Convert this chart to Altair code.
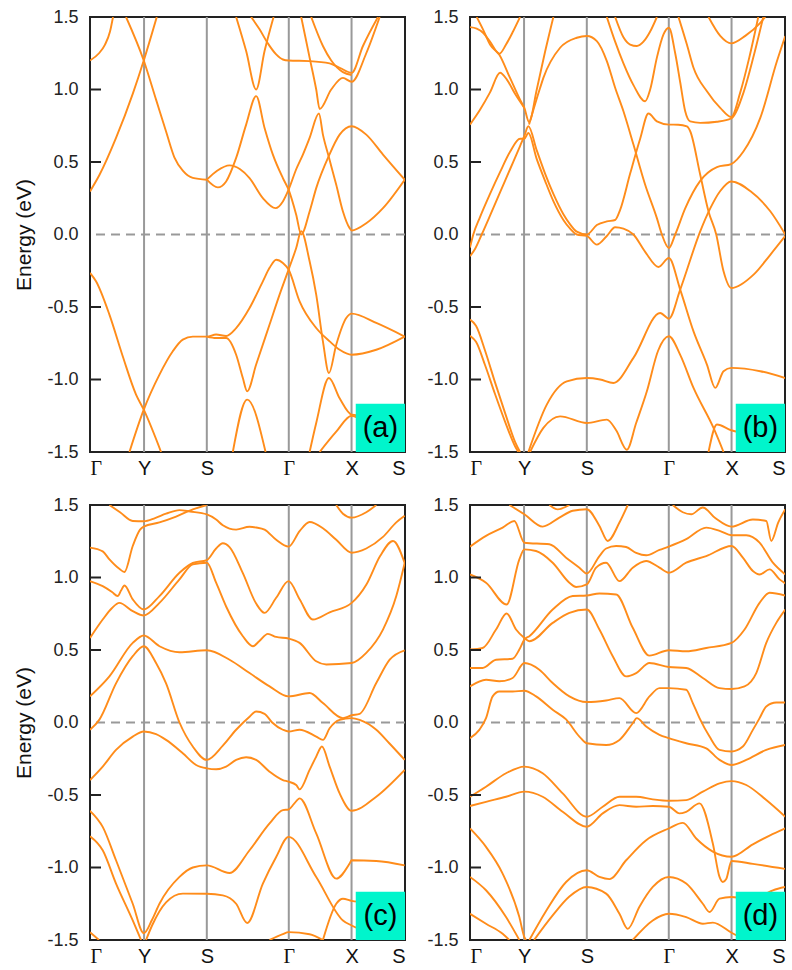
import altair as alt
import pandas as pd

# ---------------- axis / label data ----------------
K_TICKS = [0, 54.0, 116.7, 198.6, 261.3, 314.7]
K_LABELS = ["Γ", "Y", "S", "Γ", "X", "S"]
E_TICKS = [-1.5, -1.0, -0.5, 0.0, 0.5, 1.0, 1.5]
TAGS = ["(a)", "(b)", "(c)", "(d)"]

# ---------------- band data: [k, E(eV)] ----------------
BANDS_A = [
    [(0, 1.20), (9, 1.25), (15, 1.31), (20, 1.40), (23, 1.50)],
    [(36, 1.50), (53.7, 1.20), (66, 0.93), (76, 0.71), (84.4, 0.53), (92.7, 0.44), (102.7, 0.39), (116.7, 0.378)],
    [(0, 0.297), (9.4, 0.41), (26, 0.666), (42.7, 0.97), (53.7, 1.20), (66.7, 1.50)],
    [(116.7, 0.378), (127, 0.44), (139.4, 0.477), (150, 0.45), (159.4, 0.389), (172.7, 0.251), (185.4, 0.182),
     (192.7, 0.228), (198.4, 0.309), (206, 0.45), (212.7, 0.551), (219.4, 0.666), (228.7, 0.834), (232.7, 0.689),
     (238.4, 0.539), (246, 0.343), (252.7, 0.159), (259.4, 0.044), (261.4, 0.028), (276, 0.078), (292.7, 0.182),
     (314.4, 0.378)],
    [(116.7, 0.378), (127.7, 0.325), (136, 0.366), (146, 0.528), (156, 0.758), (166, 0.954), (174.4, 0.735),
     (182.7, 0.551), (192.7, 0.389), (198.4, 0.309), (206, 0.136), (211, 0.0), (219.4, 0.159), (226, 0.32),
     (238.4, 0.539), (249.4, 0.689), (261.4, 0.747), (276, 0.689), (292.7, 0.551), (314.4, 0.378)],
    [(146, 1.50), (156, 1.265), (166, 1.0), (174.4, 1.265), (183.4, 1.50)],
    [(161, 1.50), (169.4, 1.415), (177.7, 1.318), (186, 1.242), (192.7, 1.207), (198.4, 1.20), (219.4, 1.196),
     (239.4, 1.18), (249.4, 1.15), (261.4, 1.115), (272.7, 1.30), (287.7, 1.50)],
    [(211, 1.50), (219.4, 1.22), (226, 1.0), (229.4, 0.866), (241, 1.0), (252.7, 1.08), (261.4, 1.053),
     (276, 1.25), (289.4, 1.50)],
    [(221, 1.50), (232.7, 1.30), (241, 1.20), (252.7, 1.12), (261.4, 1.10)],
    [(0, -0.265), (6, -0.323), (19.4, -0.553), (32.7, -0.84), (46, -1.104), (53.7, -1.208), (71, -1.50)],
    [(39.4, -1.50), (53.7, -1.208), (69.4, -0.966), (82.7, -0.805), (92.7, -0.725), (102.7, -0.704),
     (116.7, -0.704), (126, -0.69), (136, -0.70), (146, -0.645), (159.4, -0.507), (172.7, -0.323),
     (179.4, -0.23), (186, -0.174), (192.7, -0.196), (198.4, -0.242), (209.4, -0.461), (226, -0.645),
     (239.4, -0.737), (249.4, -0.795), (261.4, -0.829), (286, -0.795), (314.4, -0.704)],
    [(116.7, -0.704), (126, -0.714), (136, -0.714), (146, -0.829), (152.7, -0.99), (157, -1.081), (166, -0.897),
     (179.4, -0.621), (189.4, -0.415), (198.4, -0.242), (206, -0.093), (211, 0.022), (219.4, -0.185),
     (226, -0.415), (232.7, -0.737), (238.7, -0.955), (246, -0.76), (256, -0.576), (261.4, -0.546),
     (286, -0.61), (314.4, -0.704)],
    [(142.7, -1.50), (157, -1.139), (175.4, -1.50)],
    [(219.4, -1.50), (226, -1.30), (238.7, -0.99), (249.4, -1.13), (261.4, -1.242), (275, -1.25)],
    [(229.4, -1.50), (246, -1.36), (261.4, -1.25), (275, -1.30)],
]

BANDS_B = [
    [(0, 1.43), (6.7, 1.42), (13.3, 1.39), (20, 1.33), (29.3, 1.247), (36, 1.31), (43, 1.40), (50, 1.50)],
    [(6.7, 1.50), (13.3, 1.41), (20, 1.31), (29.3, 1.24), (40, 1.08), (50, 0.93), (54.3, 0.873), (59, 0.776),
     (66.7, 1.0), (75, 1.26), (83.3, 1.50)],
    [(0, 0.758), (10, 0.86), (20, 0.98), (30, 1.115), (36.7, 1.07), (45, 0.97), (54.3, 0.873)],
    [(0, -0.15), (5, -0.10), (11.7, 0.0), (20, 0.13), (30, 0.29), (40, 0.45), (50, 0.61), (54.3, 0.68),
     (58.3, 0.747), (66.7, 0.58), (75, 0.42), (83.3, 0.28), (93.3, 0.14), (100, 0.07), (106.7, 0.02),
     (116.7, 0.0), (126.7, 0.065), (136.7, 0.09), (145, 0.10), (150, 0.17), (160, 0.42), (170, 0.66),
     (178.3, 0.834), (186.7, 0.78), (198.7, 0.758), (208, 0.757), (216.7, 0.745), (220, 0.712), (230, 0.412),
     (238.3, 0.159), (246, 0.0), (253.3, -0.254), (261, -0.369), (283.3, -0.277), (300, -0.14), (315, -0.01)],
    [(0, -0.09), (3.3, 0.0), (10, 0.12), (20, 0.28), (30, 0.43), (40, 0.57), (50, 0.66), (54.3, 0.66),
     (58.3, 0.70), (66.7, 0.52), (75, 0.37), (83.3, 0.23), (93.3, 0.10), (100, 0.04), (106.7, 0.0),
     (116.7, -0.01), (126.7, -0.07), (136.7, -0.01), (145, 0.05), (153.3, 0.04), (163.3, 0.0), (175, -0.12),
     (188.3, -0.224), (198.7, -0.162), (210, -0.38), (223.3, -0.668), (236.7, -0.897), (245, -1.058),
     (253.3, -0.943), (261, -0.92), (290, -0.943), (315, -0.99)],
    [(59, 0.758), (70, 1.01), (73.3, 1.08), (90, 1.288), (106.7, 1.357), (116.7, 1.369), (126.7, 1.334),
     (136.7, 1.196), (145, 1.012), (153.3, 0.85), (163.3, 0.62), (175, 0.343), (186.7, 0.113), (191.7, 0.0),
     (198.7, -0.093), (205, 0.0), (215, 0.18), (230, 0.37), (246.7, 0.465), (261, 0.486), (273.3, 0.574),
     (290, 0.804), (306.7, 1.196), (315, 1.369)],
    [(136.7, 1.50), (145, 1.33), (153.3, 1.18), (163.3, 1.03), (175, 0.919), (180, 1.0), (186.7, 1.22),
     (193.3, 1.38), (198.7, 1.426), (205, 1.25), (210, 1.05), (215, 0.85), (220, 0.78), (230, 0.77),
     (246.7, 0.778), (261, 0.80), (273.3, 0.98), (283, 1.22), (293, 1.50)],
    [(145, 1.50), (153.3, 1.36), (160, 1.31), (166.7, 1.30), (173.3, 1.33), (180, 1.40), (186.7, 1.50)],
    [(208.3, 1.50), (216.7, 1.31), (223.3, 1.15), (236.7, 0.988), (250, 0.873), (261, 0.81), (270, 0.98),
     (279, 1.22), (288, 1.50)],
    [(238.3, 1.50), (250, 1.37), (261, 1.318), (275, 1.37), (290, 1.46), (295, 1.50)],
    [(58.3, -1.50), (76.7, -1.173), (96.7, -1.013), (116.7, -0.99), (130, -1.0), (143.3, -1.024),
     (163.3, -0.851), (190, -0.541), (198.7, -0.58), (210, -0.38), (230, 0.022), (240, 0.18), (250, 0.30),
     (261, 0.366), (280, 0.30), (300, 0.16), (315, 0.0)],
    [(0, -0.587), (6, -0.63), (15, -0.80), (25, -1.02), (35, -1.23), (45, -1.43), (50, -1.50)],
    [(0, -0.698), (6, -0.74), (15, -0.90), (25, -1.10), (35, -1.29), (45, -1.46), (48.3, -1.50)],
    [(60, -1.50), (73.3, -1.334), (90, -1.254), (116.7, -1.30), (136.7, -1.277), (146, -1.35), (156.7, -1.484),
     (166, -1.30), (176.7, -1.081), (188, -0.80), (198.7, -0.702), (210, -0.83), (223.3, -1.058),
     (243.3, -1.334), (253.3, -1.50)],
    [(238.3, -1.50), (246.7, -1.31), (261, -1.35), (275, -1.37)],
]

BANDS_C = [
    [(19.4, 1.50), (30, 1.45), (42.7, 1.39), (53.7, 1.388), (65, 1.41), (76, 1.44), (89.4, 1.465), (100, 1.455),
     (116.7, 1.435), (126, 1.40), (132.7, 1.36), (146, 1.33), (159.4, 1.35), (166, 1.345), (174.4, 1.33),
     (186, 1.26), (198.4, 1.213), (209.4, 1.32), (219.4, 1.383), (232.7, 1.34), (246, 1.26), (261.4, 1.171),
     (276, 1.20), (292.7, 1.28), (306, 1.38), (314.4, 1.425)],
    [(0, 1.206), (12.7, 1.18), (19.4, 1.125), (29.3, 1.06), (34.4, 1.038), (42.7, 1.217), (50, 1.33),
     (53.7, 1.351), (69.4, 1.38), (86, 1.42), (102.7, 1.47), (116.7, 1.50)],
    [(0, 0.975), (12.7, 0.94), (22, 0.90), (27.7, 0.872), (31, 0.91), (34.4, 0.945), (42.7, 0.849), (53.7, 0.779),
     (69.4, 0.872), (89.4, 1.033), (102.7, 1.10), (116.7, 1.12), (126, 1.20), (132.7, 1.236), (139.4, 1.21),
     (152.7, 1.03), (166, 0.82), (174.4, 0.756), (186, 0.86), (198.4, 0.975), (209.4, 0.85), (222.7, 0.71),
     (239.4, 0.76), (261.4, 0.825), (276, 0.95), (290, 1.15), (302.7, 1.252), (314.4, 1.10)],
    [(0, 0.583), (12.7, 0.71), (22, 0.79), (29.3, 0.825), (42.7, 0.768), (53.7, 0.738), (69.4, 0.825),
     (89.4, 0.987), (102.7, 1.09), (116.7, 1.102), (126, 0.964), (136, 0.80), (152.7, 0.595), (162.7, 0.526),
     (169, 0.56), (177.7, 0.611), (186, 0.59), (198.4, 0.579), (209.4, 0.549), (226, 0.422), (236, 0.40),
     (261.4, 0.41), (276, 0.48), (292.7, 0.641), (306, 0.872), (314.4, 1.10)],
    [(0, 0.18), (19.4, 0.318), (42.7, 0.549), (53.7, 0.60), (69.4, 0.526), (89.4, 0.484), (116.7, 0.498),
     (139.4, 0.433), (159.4, 0.341), (179.4, 0.249), (198.4, 0.18), (219.4, 0.203), (232.7, 0.134),
     (252.7, 0.03), (261.4, 0.05), (269.4, 0.06), (286, 0.272), (299.4, 0.433), (314.4, 0.498)],
    [(0, -0.05), (9.4, 0.02), (26, 0.27), (42.7, 0.457), (53.7, 0.526), (66, 0.41), (76, 0.27), (89.4, 0.0),
     (102.7, -0.166), (116.7, -0.258), (132.7, -0.16), (146, -0.05), (159.4, 0.04), (166, 0.076),
     (174.4, 0.06), (182, 0.0), (192.7, -0.05), (198.4, -0.062), (209.4, -0.05), (226, -0.097),
     (232.7, -0.12), (239.4, -0.04), (249.4, 0.018), (261.4, 0.03), (269.4, 0.018), (286, -0.05),
     (299, -0.143), (314.4, -0.258)],
    [(0, -0.397), (12.7, -0.304), (26, -0.189), (42.7, -0.097), (53.7, -0.062), (66, -0.08), (76, -0.12),
     (92.7, -0.212), (106, -0.293), (116.7, -0.316), (126, -0.322), (136, -0.304), (146, -0.258),
     (156, -0.24), (166, -0.258), (179.4, -0.339), (192.7, -0.397), (198.4, -0.408), (206, -0.431),
     (209.4, -0.461), (219.4, -0.327), (226, -0.235), (231.7, -0.166), (239.4, -0.304), (249.4, -0.489),
     (261.4, -0.609), (286, -0.512), (314.4, -0.327)],
    [(0, -0.609), (12.7, -0.72), (26, -0.95), (42.7, -1.25), (53.7, -1.453), (62, -1.36), (69.4, -1.25),
     (89.4, -1.065), (102.7, -1.0), (116.7, -0.985), (139.4, -1.038), (159.4, -0.881), (179.4, -0.696),
     (192.7, -0.604), (198.4, -0.60), (204, -0.56), (209.4, -0.523), (226, -0.765), (246, -1.077),
     (259.4, -0.973), (261.4, -0.95), (286, -0.955), (314.4, -0.985)],
    [(0, -0.784), (12.7, -0.881), (26, -1.111), (42.7, -1.365), (51, -1.50)],
    [(56, -1.50), (62, -1.40), (76, -1.24), (92.7, -1.18), (116.7, -1.181), (132.7, -1.192), (146, -1.25),
     (157, -1.383), (172.7, -1.111), (186, -0.927), (198.4, -0.789), (226, -1.065), (252.7, -1.365),
     (261.4, -1.40), (275, -1.44)],
    [(232.7, -1.50), (246, -1.25), (252.7, -1.215), (261.4, -1.23), (276, -1.24)],
    [(0, -1.446), (9, -1.50)],
    [(179.4, -1.50), (192.7, -1.46), (198.4, -1.446), (219.4, -1.46), (232.7, -1.50)],
    [(246, 1.50), (252.7, 1.44), (261.4, 1.413), (276, 1.45), (286, 1.50)],
]

BANDS_D = [
    [(39.3, 1.50), (54.3, 1.436), (72.6, 1.351), (89.3, 1.413), (102.6, 1.46), (116.6, 1.471), (129.3, 1.356),
     (137.6, 1.252), (149.3, 1.379), (157.6, 1.50)],
    [(79.3, 1.50), (87.6, 1.47), (99.3, 1.50)],
    [(202.6, 1.50), (212.6, 1.45), (221, 1.436), (232.6, 1.483), (245, 1.41), (261.3, 1.351), (282.6, 1.40),
     (296, 1.39), (301, 1.252), (308, 1.38), (315, 1.471)],
    [(0, 1.213), (16, 1.287), (32.6, 1.344), (44.3, 1.39), (54.3, 1.24), (79.3, 1.229), (96, 1.137),
     (109.3, 1.068), (116.6, 1.028), (129.3, 1.148), (136, 1.20), (146, 1.217), (156, 1.21), (166, 1.17),
     (176, 1.153), (189.3, 1.19), (198.6, 1.213), (216, 1.264), (236, 1.344), (250, 1.32), (261.3, 1.291),
     (276, 1.291), (289.3, 1.24), (302.6, 1.102), (315, 1.021)],
    [(0, 1.021), (16, 0.964), (36.6, 0.814), (49.3, 1.125), (54.3, 1.194), (66, 1.183), (82.6, 1.102),
     (99.3, 0.964), (106, 0.934), (116.6, 0.952), (126, 1.068), (136, 1.102), (149.3, 0.975), (162.6, 1.068),
     (176, 1.114), (189.3, 1.068), (198.6, 1.033), (216, 1.102), (236, 1.148), (261.3, 1.217), (272.6, 1.137),
     (282.6, 1.045), (289.3, 1.021), (299.3, 1.056), (309.3, 0.987), (315, 0.959)],
    [(0, 0.503), (12.6, 0.514), (26, 0.641), (36.6, 0.752), (46, 0.641), (54.3, 0.583), (59.3, 0.56),
     (82.6, 0.687), (99.3, 0.756), (116.6, 0.779), (129.3, 0.641), (142.6, 0.457), (156, 0.318), (166, 0.341),
     (179.3, 0.41), (198.6, 0.383), (216, 0.376), (232.6, 0.307), (249.3, 0.237), (261.3, 0.231),
     (274.3, 0.249), (286, 0.341), (296, 0.549), (306, 0.687), (315, 0.779)],
    [(0, 0.376), (12.6, 0.376), (26, 0.433), (42.6, 0.44), (49.3, 0.503), (54.3, 0.572), (59.3, 0.595),
     (82.6, 0.779), (102.6, 0.872), (116.6, 0.876), (129.3, 0.89), (146, 0.883), (162.6, 0.653),
     (179.3, 0.461), (198.6, 0.498), (216, 0.491), (236, 0.514), (261.3, 0.549), (274.3, 0.641),
     (289.3, 0.825), (299.3, 0.895), (315, 0.876)],
    [(0, 0.249), (16, 0.295), (29.3, 0.284), (42.6, 0.307), (54.3, 0.41), (69.3, 0.364), (82.6, 0.272),
     (99.3, 0.18), (116.6, 0.141), (136, 0.152), (149.3, 0.168), (166, 0.065), (179.3, 0.18), (189.3, 0.237),
     (198.6, 0.237), (216, 0.226), (222.6, 0.134), (229.3, 0.03), (239.3, -0.097), (249.3, -0.189),
     (261.3, -0.20), (272.6, -0.166), (282.6, -0.051), (289.3, 0.03), (296, 0.111), (306, 0.138), (315, 0.138)],
    [(0, -0.108), (9.3, -0.051), (16, 0.03), (22.6, 0.18), (29.3, 0.214), (42.6, 0.214), (54.3, 0.219),
     (66, 0.18), (82.6, 0.088), (96, 0.021), (109.3, -0.097), (116.6, -0.143), (136, -0.155), (149.3, -0.12),
     (162.6, -0.005), (166.6, 0.03), (176, -0.028), (189.3, -0.085), (198.6, -0.108), (216, -0.143),
     (236, -0.178), (249.3, -0.258), (261.3, -0.293), (276, -0.258), (296, -0.189), (315, -0.155)],
    [(0, -0.512), (16, -0.443), (36, -0.35), (54.3, -0.304), (72.6, -0.35), (92.6, -0.489), (116.6, -0.65),
     (132.6, -0.581), (149.3, -0.512), (166, -0.512), (182.6, -0.53), (198.6, -0.54), (216, -0.535),
     (232.6, -0.477), (249.3, -0.42), (261.3, -0.404), (276, -0.431), (296, -0.535), (315, -0.65)],
    [(0, -0.576), (16, -0.547), (36, -0.512), (54.3, -0.477), (72.6, -0.512), (92.6, -0.616), (116.6, -0.719),
     (132.6, -0.627), (149.3, -0.57), (166, -0.581), (182.6, -0.576), (198.6, -0.581), (209.3, -0.627),
     (216, -0.616), (229.3, -0.558), (242.6, -0.835), (249.3, -1.065), (252.6, -1.10), (256, -1.08),
     (261.3, -0.955), (282.6, -0.975), (315, -1.01)],
    [(59.3, -1.50), (76, -1.30), (96, -1.10), (116.6, -1.019), (129.3, -1.065), (139.3, -1.08), (156, -0.95),
     (176, -0.812), (198.6, -0.731), (212.6, -0.692), (226, -0.80), (242.6, -0.89), (261.3, -0.926),
     (282.6, -0.84), (299.3, -0.78), (315, -0.73)],
    [(0, -0.731), (16, -0.858), (32.6, -1.042), (49.3, -1.342), (54.3, -1.48), (56, -1.50)],
    [(0, -1.065), (16, -1.157), (36, -1.342), (49.3, -1.50)],
    [(0, -1.319), (16, -1.388), (32.6, -1.457), (39.3, -1.50)],
    [(64, -1.50), (82.6, -1.33), (99.3, -1.20), (116.6, -1.134), (136, -1.18), (149.3, -1.319), (157.6, -1.423),
     (169.3, -1.27), (182.6, -1.134), (198.6, -1.065), (216, -1.111), (232.6, -1.25), (239.3, -1.307),
     (249.3, -1.215), (261.3, -1.203), (275, -1.22)],
    [(162.6, -1.50), (182.6, -1.365), (198.6, -1.319), (216, -1.342), (232.6, -1.388), (242.6, -1.38),
     (261.3, -1.45), (275, -1.50)],
    [(290, -1.20), (302.6, -1.157), (315, -1.134)],
]

# ---------------- styling ----------------
BAND_COLOR = "#ff8c1a"
GRID_COLOR = "#999999"
BOX_COLOR = "#00f5cc"
W, H = 315, 435
K_MAX = 314.7

x_scale = alt.Scale(domain=[0, K_MAX], nice=False, zero=False)
y_scale = alt.Scale(domain=[-1.5, 1.5], nice=False, zero=False)

k_label_expr = "[" + ",".join("'%s'" % s for s in K_LABELS) + "][indexof([" + \
    ",".join(str(v) for v in K_TICKS) + "], datum.value)]"
e_label_expr = "(datum.value < 0 ? '-' : '') + format(abs(datum.value), '.1f')"
gamma_test = "datum.value < 1 || (datum.value > 190 && datum.value < 210)"


def make_panel(bands, tag, left):
    rows = []
    for i, band in enumerate(bands):
        for k, e in band:
            rows.append({"k": k, "E": e, "band": i})
    df = pd.DataFrame(rows)

    x_axis = alt.Axis(values=K_TICKS, labelExpr=k_label_expr, domain=False, ticks=False, grid=False,
                      labelFontSize=20, labelColor="#111", labelPadding=6, labelAngle=0,
                      labelFont={"condition": {"test": gamma_test, "value": "Liberation Serif"},
                                 "value": "Liberation Sans"},
                      title=None)
    y_axis = alt.Axis(values=E_TICKS, labelExpr=e_label_expr, domain=False, ticks=False, grid=False,
                      labelFontSize=18, labelFont="Liberation Sans", labelColor="#222", labelPadding=12,
                      title="Energy (eV)" if left else None, titleFontSize=21, titleFont="Liberation Sans",
                      titleFontWeight="normal", titleColor="#111", titlePadding=12)

    X = lambda f="k": alt.X(f + ":Q", scale=x_scale, axis=x_axis)
    Y = lambda f="E": alt.Y(f + ":Q", scale=y_scale, axis=y_axis)

    vlines = alt.Chart(pd.DataFrame({"k": K_TICKS[1:-1]})).mark_rule(
        color=GRID_COLOR, strokeWidth=2).encode(x=X())

    zero = alt.Chart(pd.DataFrame({"E": [0.0]})).mark_rule(
        color=GRID_COLOR, strokeWidth=1.8, strokeDash=[9, 6]).encode(y=Y())

    lines = alt.Chart(df).mark_line(
        color=BAND_COLOR, strokeWidth=1.9, interpolate="monotone", clip=True).encode(
        x=X(), y=Y(), detail="band:N")

    ticks = alt.Chart(pd.DataFrame({"E": [v for v in E_TICKS if v != 0.0 and abs(v) < 1.5]})).mark_rule(
        color="#222", strokeWidth=2).encode(y=Y(), x=alt.value(0), x2=alt.value(11))

    box = alt.Chart(pd.DataFrame({"k": [265.5], "k2": [K_MAX], "E": [-1.5], "E2": [-1.167]})).mark_rect(
        color=BOX_COLOR).encode(x=X(), x2="k2:Q", y=Y(), y2="E2:Q")

    text = alt.Chart(pd.DataFrame({"k": [290.1], "E": [-1.335], "t": [tag]})).mark_text(
        fontSize=29, font="Liberation Sans", color="#000", align="center", baseline="middle").encode(
        x=X(), y=Y(), text="t:N")

    return alt.layer(vlines, zero, lines, ticks, box, text).properties(width=W, height=H)


panels = [make_panel(b, t, i % 2 == 0) for i, (b, t) in
          enumerate(zip([BANDS_A, BANDS_B, BANDS_C, BANDS_D], TAGS))]

chart = alt.concat(*panels, columns=2, spacing=alt.RowColnumber(row=53, column=65), bounds="flush").properties(
    padding={"left": 12, "top": 7, "right": 5, "bottom": 5},
    background="white",
).configure_view(stroke="#222", strokeWidth=2)

chart.save("out.html", embed_options={"renderer": "svg", "actions": False})
